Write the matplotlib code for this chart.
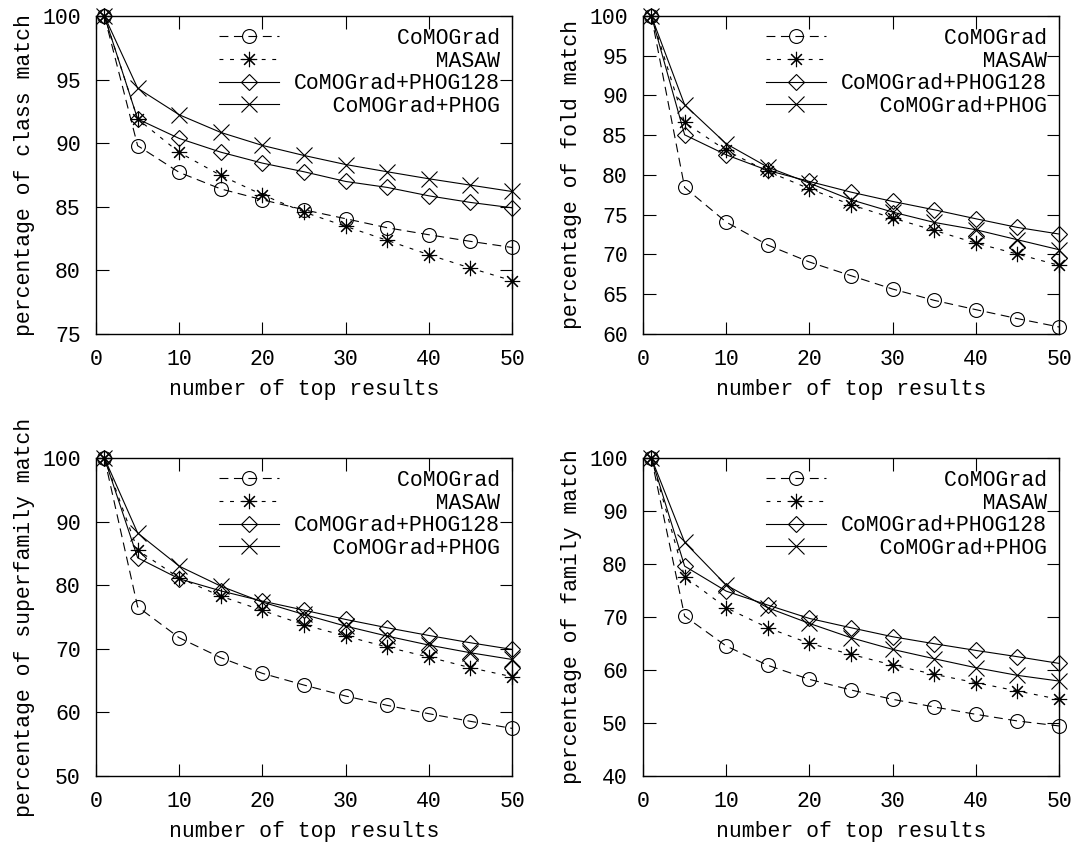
import matplotlib
matplotlib.use('Agg')
import matplotlib.pyplot as plt

plt.rcParams['font.family'] = ['Liberation Mono', 'DejaVu Sans Mono']
plt.rcParams['font.size'] = 15.5

x = [1, 5, 10, 15, 20, 25, 30, 35, 40, 45, 50]
labels = ['CoMOGrad', 'MASAW', 'CoMOGrad+PHOG128', 'CoMOGrad+PHOG']

# class match
class_comograd = [100, 89.8, 87.7, 86.4, 85.55, 84.76, 84.06, 83.35, 82.8, 82.28, 81.8]
class_masaw = [100, 91.9, 89.27, 87.46, 85.94, 84.58, 83.46, 82.36, 81.23, 80.18, 79.19]
class_phog128 = [100, 91.9, 90.37, 89.29, 88.43, 87.75, 86.99, 86.52, 85.86, 85.34, 84.92]
class_phog = [100, 94.32, 92.23, 90.84, 89.82, 89.03, 88.32, 87.75, 87.2, 86.7, 86.2]

# fold match
fold_comograd = [100, 78.43, 74.07, 71.18, 69.05, 67.33, 65.65, 64.23, 63.06, 61.93, 60.88]
fold_masaw = [100, 86.6, 83.08, 80.44, 78.26, 76.25, 74.58, 73.03, 71.43, 70.05, 68.63]
fold_phog128 = [100, 85.05, 82.53, 80.57, 79.18, 77.84, 76.67, 75.62, 74.49, 73.4, 72.57]
fold_phog = [100, 88.82, 83.92, 80.98, 78.97, 76.88, 75.33, 74.03, 73.11, 71.85, 70.6]
fold_extra_x = [30, 40, 45, 50]
fold_extra = [75.2, 72.3, 70.9, 69.6]

# superfamily match
sf_comograd = [100, 76.6, 71.73, 68.59, 66.13, 64.29, 62.57, 61.1, 59.79, 58.59, 57.49]
sf_masaw = [100, 85.5, 81.15, 78.27, 76.02, 73.77, 71.99, 70.26, 68.69, 67.02, 65.6]
sf_phog128 = [100, 84.3, 81.0, 79.1, 77.49, 76.07, 74.61, 73.3, 72.09, 70.94, 69.9]
sf_phog = [100, 88.2, 82.98, 79.84, 77.33, 75.39, 73.56, 71.99, 70.58, 69.37, 68.32]
sf_extra_x = [25, 30, 35, 40, 45, 50]
sf_extra = [74.7, 73.0, 71.4, 69.8, 68.4, 66.9]

# family match
fam_comograd = [100, 70.16, 64.51, 60.87, 58.23, 56.22, 54.46, 53.02, 51.63, 50.38, 49.44]
fam_masaw = [100, 77.58, 71.73, 67.96, 65.01, 62.94, 60.93, 59.17, 57.6, 56.03, 54.46]
fam_phog128 = [100, 79.59, 74.87, 72.24, 69.72, 67.96, 66.27, 64.95, 63.69, 62.5, 61.24]
fam_phog = [100, 84.1, 76.0, 71.73, 68.78, 66.08, 63.88, 62.12, 60.43, 58.98, 57.91]

panels = [
    ('percentage of class match', [class_comograd, class_masaw, class_phog128, class_phog],
     (75, 100), range(75, 101, 5), None),
    ('percentage of fold match', [fold_comograd, fold_masaw, fold_phog128, fold_phog],
     (60, 100), range(60, 101, 5), (fold_extra_x, fold_extra)),
    ('percentage of superfamily match', [sf_comograd, sf_masaw, sf_phog128, sf_phog],
     (50, 100), range(50, 101, 10), (sf_extra_x, sf_extra)),
    ('percentage of family match', [fam_comograd, fam_masaw, fam_phog128, fam_phog],
     (40, 100), range(40, 101, 10), None),
]

positions = [
    [0.0886, 0.6043, 0.3838, 0.3768],
    [0.5932, 0.6043, 0.3838, 0.3768],
    [0.0886, 0.0806, 0.3838, 0.3768],
    [0.5932, 0.0806, 0.3838, 0.3768],
]

styles = [
    dict(linestyle=(0, (8, 5)), marker='o', markersize=10),
    dict(linestyle=(0, (3.5, 6)), marker=(8, 2, 0), markersize=11),
    dict(linestyle='-', marker='D', markersize=8.5),
    dict(linestyle='-', marker='x', markersize=11),
]

fig = plt.figure(figsize=(10.84, 8.44), dpi=100)

for (ylabel, series, ylim, yticks, extra), pos in zip(panels, positions):
    ax = fig.add_axes(pos)
    for vals, lab, st in zip(series, labels, styles):
        ax.plot(x, vals, color='black', linewidth=0.8, markerfacecolor='none',
                markeredgecolor='black', markeredgewidth=0.8,
                label=lab.rjust(16), clip_on=False, **st)
    if extra is not None:
        ax.plot(extra[0], extra[1], linestyle='none', marker='D', markersize=8.5,
                markerfacecolor='none', markeredgecolor='black',
                markeredgewidth=0.8, clip_on=False)
    ax.set_xlim(0, 50)
    ax.set_ylim(*ylim)
    ax.set_xticks(range(0, 51, 10))
    ax.set_yticks(list(yticks))
    ax.tick_params(direction='in', length=9, width=0.8, top=True, right=True,
                   pad=11, colors='black')
    for sp in ax.spines.values():
        sp.set_linewidth(1.0)
    ax.set_xlabel('number of top results', labelpad=6.5)
    ax.set_ylabel(ylabel, labelpad=5)
    ax.legend(loc='upper right', frameon=False, handlelength=2.8,
              handletextpad=0.7, labelspacing=0.08, borderpad=0.05,
              borderaxespad=0.5, numpoints=1)

fig.savefig('out.png', dpi=100)
